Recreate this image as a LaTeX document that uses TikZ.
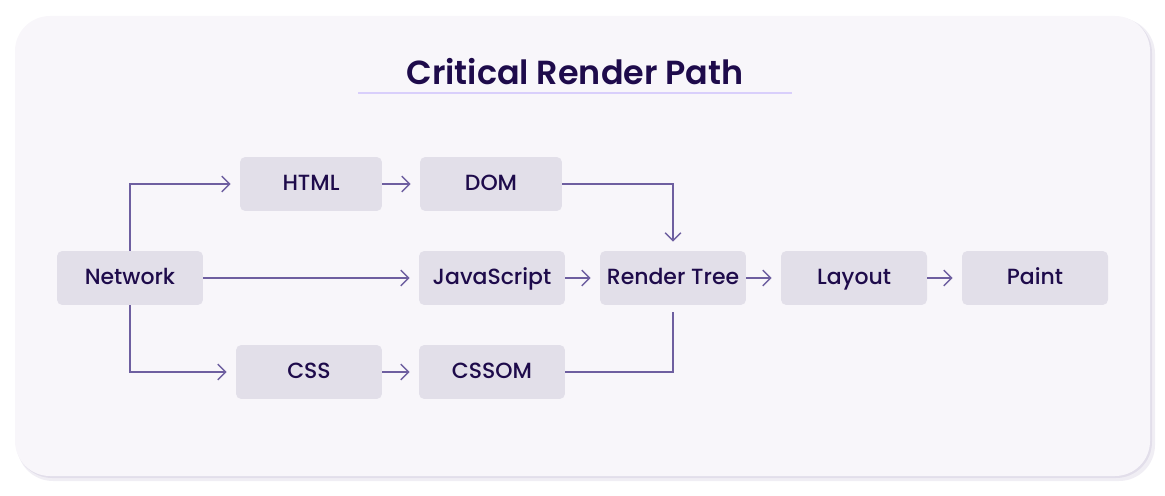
\documentclass[tikz,border=0pt]{standalone}
\usepackage{fontspec}
\setmainfont{Poppins}
\newfontfamily\boxfont{Poppins Medium}
\newfontfamily\headfont{Poppins SemiBold}
\usepackage{xcolor}
\usetikzlibrary{arrows.meta}

\begin{document}
\begin{tikzpicture}[x=0.02cm, y=-0.02cm,
    box/.style={fill=BoxGrey, rounded corners=3pt, minimum width=2.92cm,
        minimum height=1.08cm, inner sep=0pt, text=Ink,
        text height=0.72em, text depth=0em,
        font=\boxfont\fontsize{12.5}{14}\selectfont},
    wire/.style={draw=Wire, line width=0.8pt},
    link/.style={wire, shorten >=0.18cm,
        -{Straight Barb[length=4.5pt, width=9pt, line width=0.8pt]}}]
    \definecolor{Panel}{HTML}{F8F6FA}
    \definecolor{Shade}{HTML}{E2DEEA}
    \definecolor{BoxGrey}{HTML}{E2DFE9}
    \definecolor{Ink}{HTML}{1E0B4B}
    \definecolor{Wire}{HTML}{6E5FA0}
    \definecolor{Lilac}{HTML}{D9CFFB}
    \useasboundingbox (0,0) rectangle (1165,496);
    % card with its soft shadow
    \fill[Shade, opacity=0.5, rounded corners=0.72cm] (17,18) rectangle (1155,481);
    \fill[Shade, rounded corners=0.72cm] (16,17) rectangle (1152,478);
    \fill[Panel, rounded corners=0.7cm] (15,16) rectangle (1150,476);
    % heading
    \node[text=Ink, font=\headfont\fontsize{19}{22}\selectfont] (title) at (575,72) {Critical Render Path};
    \draw[Lilac, line width=1.2pt] (358,93) coordinate (ruleL) -- (792,93) coordinate (ruleR);
    % stages
    \node[box] (network) at (130,278) {Network};
    \node[box, minimum width=2.84cm] (html) at (311,184) {HTML};
    \node[box, minimum width=2.84cm] (dom) at (491,184) {DOM};
    \node[box] (css) at (309,372) {CSS};
    \node[box] (cssom) at (492,372) {CSSOM};
    \node[box] (js) at (492,278) {JavaScript};
    \node[box] (rtree) at (673,278) {Render Tree};
    \node[box] (layout) at (854,278) {Layout};
    \node[box] (paint) at (1035,278) {Paint};
    % connectors
    \draw[link] (network.north) |- (html.west);
    \draw[link] (network.south) |- (css.west);
    \draw[link] (network.east) -- (js.west);
    \draw[link] (html.east) -- (dom.west);
    \draw[link] (css.east) -- (cssom.west);
    \draw[link] (dom.east) -| (rtree.north);
    \draw[wire, shorten >=0.14cm] (cssom.east) -| (rtree.south);
    \foreach \from/\to in {js/rtree, rtree/layout, layout/paint}{
        \draw[link] (\from.east) -- (\to.west);
    }
\end{tikzpicture}
\end{document}
